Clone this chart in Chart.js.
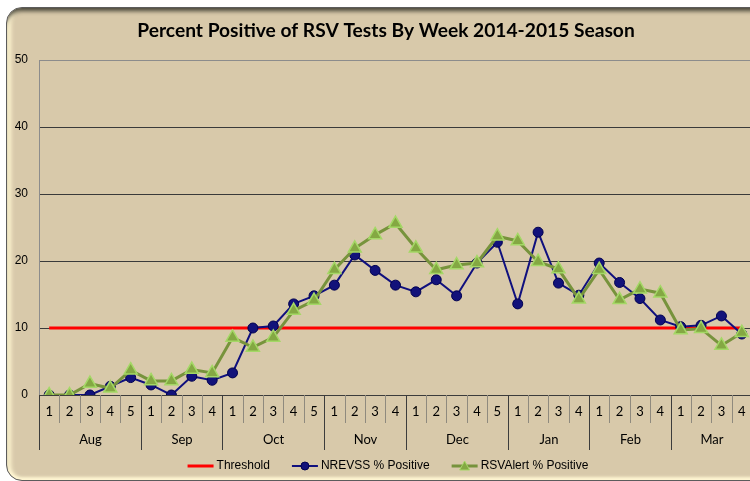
<!DOCTYPE html>
<html>
<head>
<meta charset="utf-8">
<title>Percent Positive of RSV Tests By Week 2014-2015 Season</title>
<script src="https://cdn.jsdelivr.net/npm/chart.js@4/dist/chart.umd.min.js"></script>
<style>
  html, body { margin: 0; padding: 0; background: #fff; }
  body { width: 750px; height: 481px; overflow: hidden; position: relative; }
  .frame {
    position: absolute; left: 6px; top: 7px; width: 820px; height: 472px;
    border: 1px solid #5c5c5c; border-radius: 16px;
    background: #d8c9aa;
    box-shadow: inset 0 5px 4px -2px rgba(45, 45, 35, 0.85),
                inset 6px 0 4px -2px #fff6d2,
                inset 0 -4px 3px -1px #fff6d2;
  }
  #chart { position: absolute; left: 0; top: 0; }
</style>
</head>
<body>
<div class="frame"></div>
<canvas id="chart" width="772" height="481"></canvas>
<script>
// week number under each point, grouped by month
const weeks = ['1','2','3','4','5', '1','2','3','4', '1','2','3','4','5', '1','2','3','4',
               '1','2','3','4','5', '1','2','3','4', '1','2','3','4', '1','2','3','4'];
const months = ['Aug', 'Sep', 'Oct', 'Nov', 'Dec', 'Jan', 'Feb', 'Mar'];
const weeksPerMonth = [5, 4, 5, 4, 5, 4, 4, 4];

const threshold = [10,10,10,10,10, 10,10,10,10, 10,10,10,10,10, 10,10,10,10,
                   10,10,10,10,10, 10,10,10,10, 10,10,10,10, 10,10,10,10];
const nrevss = [0, 0, 0, 1.3, 2.6, 1.5, 0, 2.8, 2.2, 3.3, 10.0, 10.3, 13.6, 14.8,
                16.4, 20.9, 18.6, 16.4, 15.4, 17.2, 14.8, 19.7, 22.8,
                13.6, 24.3, 16.7, 14.9, 19.7, 16.8, 14.4, 11.2, 10.2, 10.4, 11.8, 9.1];
const rsvAlert = [0, 0, 1.7, 1.0, 3.7, 2.1, 2.1, 3.8, 3.3, 8.6, 7.1, 8.6, 12.6, 14.1,
                  18.7, 21.9, 23.9, 25.6, 21.9, 18.7, 19.4, 19.7, 23.7,
                  23.0, 19.9, 18.8, 14.3, 18.7, 14.2, 15.8, 15.2, 9.7, 9.9, 7.4, 9.3];
const yTicks = [0, 10, 20, 30, 40, 50];

const RED = '#ff0000';
const NAVY = '#10107e';
const OLIVE = '#77933c';

// two-level category axis: dividers + month names
const monthAxis = {
  id: 'monthAxis',
  afterDraw(chart) {
    const xs = chart.scales.x;
    const ctx = chart.ctx;
    const top = xs.top;
    const catW = xs.getPixelForValue(1) - xs.getPixelForValue(0);
    const edge = i => Math.round(xs.getPixelForValue(0) - catW / 2 + i * catW) + 0.5;

    const monthStarts = [0];
    weeksPerMonth.forEach(n => monthStarts.push(monthStarts[monthStarts.length - 1] + n));

    ctx.save();
    ctx.lineWidth = 1;
    ctx.strokeStyle = '#8f8a7e';
    for (let i = 0; i <= weeks.length; i++) {
      if (monthStarts.includes(i)) continue;
      ctx.beginPath(); ctx.moveTo(edge(i), top); ctx.lineTo(edge(i), top + 28); ctx.stroke();
    }
    ctx.strokeStyle = '#3c3c3c';
    monthStarts.forEach(i => {
      ctx.beginPath(); ctx.moveTo(edge(i), top); ctx.lineTo(edge(i), top + 55); ctx.stroke();
    });

    ctx.fillStyle = '#000';
    ctx.font = '13px Lato';
    ctx.textAlign = 'center';
    ctx.textBaseline = 'middle';
    months.forEach((m, k) => {
      const cx = (edge(monthStarts[k]) + edge(monthStarts[k + 1])) / 2;
      ctx.fillText(m, cx, top + 45);
    });
    ctx.restore();
  }
};

// Excel-like legend: short line with the series marker, then the name
const lineLegend = {
  id: 'lineLegend',
  afterDraw(chart) {
    const ctx = chart.ctx;
    const sets = chart.data.datasets;
    const lineLen = 26, textGap = 3, itemGap = 22, cy = 466;
    ctx.save();
    ctx.font = '12px "Liberation Sans"';
    const widths = sets.map(ds => lineLen + textGap + ctx.measureText(ds.label).width);
    const total = widths.reduce((a, b) => a + b, 0) + itemGap * (sets.length - 1);
    let x = 388 - total / 2;
    sets.forEach((ds, i) => {
      ctx.strokeStyle = ds.borderColor;
      ctx.lineWidth = ds.borderWidth;
      ctx.beginPath(); ctx.moveTo(x, cy); ctx.lineTo(x + lineLen, cy); ctx.stroke();
      const mx = x + lineLen / 2;
      if (ds.pointRadius > 0) {
        ctx.fillStyle = ds.pointBackgroundColor;
        ctx.strokeStyle = ds.pointBorderColor;
        ctx.lineWidth = 1;
        ctx.beginPath();
        if (ds.pointStyle === 'triangle') {
          ctx.moveTo(mx, cy - 5); ctx.lineTo(mx + 5, cy + 4); ctx.lineTo(mx - 5, cy + 4); ctx.closePath();
        } else {
          ctx.arc(mx, cy, 4, 0, Math.PI * 2);
        }
        ctx.fill(); ctx.stroke();
      }
      ctx.fillStyle = '#000';
      ctx.textBaseline = 'middle';
      ctx.fillText(ds.label, x + lineLen + textGap, cy);
      x += widths[i] + itemGap;
    });
    ctx.restore();
  }
};

new Chart(document.getElementById('chart'), {
  type: 'line',
  data: {
    labels: weeks,
    datasets: [
      {
        label: 'Threshold',
        data: threshold,
        borderColor: RED,
        borderWidth: 3,
        pointRadius: 0,
        order: 3
      },
      {
        label: 'NREVSS % Positive',
        data: nrevss,
        borderColor: NAVY,
        borderWidth: 2,
        pointStyle: 'circle',
        pointRadius: 5,
        pointBackgroundColor: '#12127a',
        pointBorderColor: '#000050',
        pointBorderWidth: 1,
        order: 2
      },
      {
        label: 'RSVAlert % Positive',
        data: rsvAlert,
        borderColor: OLIVE,
        borderWidth: 3,
        pointStyle: 'triangle',
        pointRadius: 7.5,
        pointBackgroundColor: '#84a843',
        pointBorderColor: '#a4d866',
        pointBorderWidth: 1.5,
        order: 1
      }
    ]
  },
  options: {
    responsive: false,
    animation: false,
    events: [],
    layout: { padding: { top: 0, left: 0, right: 0, bottom: 0 } },
    scales: {
      x: {
        offset: true,
        grid: { display: false, drawTicks: false },
        border: { display: true, color: '#3c3c3c' },
        ticks: {
          color: '#000',
          font: { family: 'Lato', size: 13 },
          padding: 9,
          autoSkip: false,
          maxRotation: 0
        },
        afterFit: s => { s.height = 86; }
      },
      y: {
        min: 0,
        max: 50,
        afterBuildTicks: s => { s.ticks = yTicks.map(v => ({ value: v })); },
        grid: {
          drawTicks: false,
          color: c => (c.tick && c.tick.value === 50 ? '#8c8c8c' : '#3a3a3a')
        },
        border: { display: true, color: '#8c8c8c' },
        ticks: {
          color: '#000',
          font: { family: 'Liberation Sans', size: 12 },
          padding: 11
        },
        afterFit: s => { s.width = 39; }
      },
      spacer: {
        position: 'right',
        grid: { display: false },
        border: { display: false },
        ticks: { display: false },
        afterFit: s => { s.width = 20; }
      }
    },
    plugins: {
      title: {
        display: true,
        text: 'Percent Positive of RSV Tests By Week 2014-2015 Season',
        color: '#000',
        font: { family: 'Lato', size: 19.2, weight: 'bold' },
        padding: { top: 19.5, bottom: 17.5 }
      },
      legend: { display: false },
      tooltip: { enabled: false }
    }
  },
  plugins: [monthAxis, lineLegend]
});
</script>
</body>
</html>
